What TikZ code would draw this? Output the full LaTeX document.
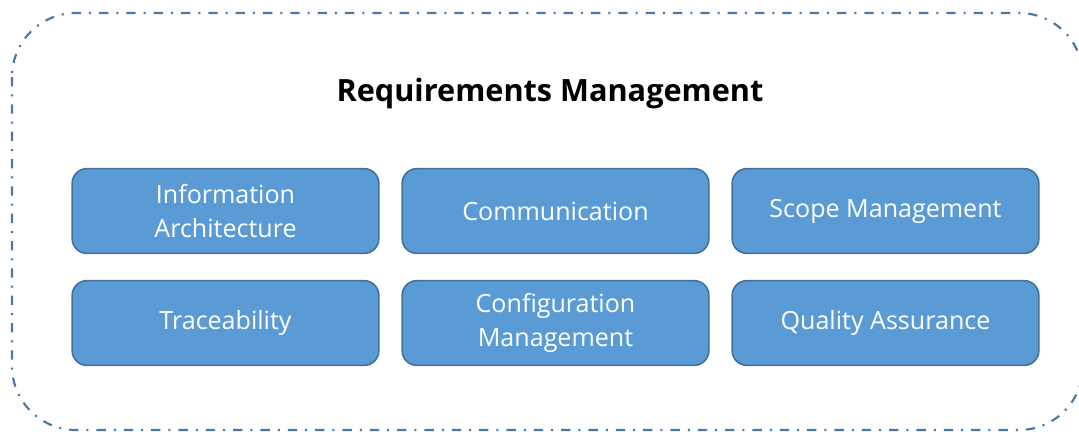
\documentclass[tikz,border=0pt]{standalone}
\usepackage{fontspec}
\setmainfont{Open Sans}
\begin{document}
\begin{tikzpicture}[x=0.75pt,y=-0.75pt,
  topic/.style={draw=color1,fill=color0,line width=1.2pt,rounded corners=11pt,
    minimum width=230pt,minimum height=63.5pt,align=center,text=white,
    font=\fontsize{18.8}{26}\selectfont,inner sep=0pt}]
\definecolor{color0}{HTML}{5B9BD5}
\definecolor{color1}{HTML}{41719C}
\definecolor{color2}{HTML}{4A77A8}
\useasboundingbox (0,0) rectangle (1079,432);
\clip (0,0) rectangle (1079,432);
\draw[color2,line width=1.6pt,rounded corners=48pt,
  dash pattern=on 7pt off 6pt on 1.5pt off 6pt] (12,13) rectangle (1083,430);
\node[font=\fontsize{23}{26}\selectfont\bfseries] (title) at (550,94) {Requirements Management};
\node[topic] (info) at (225.5,211) {Information\\Architecture};
\node[topic] (comm) at (555.5,211) {Communication};
\node[topic] (scope) at (885.5,211) {Scope Management};
\node[topic] (trace) at (225.5,323) {Traceability};
\node[topic] (config) at (555.5,323) {Configuration\\Management};
\node[topic] (quality) at (885.5,323) {Quality Assurance};
\end{tikzpicture}
\end{document}
